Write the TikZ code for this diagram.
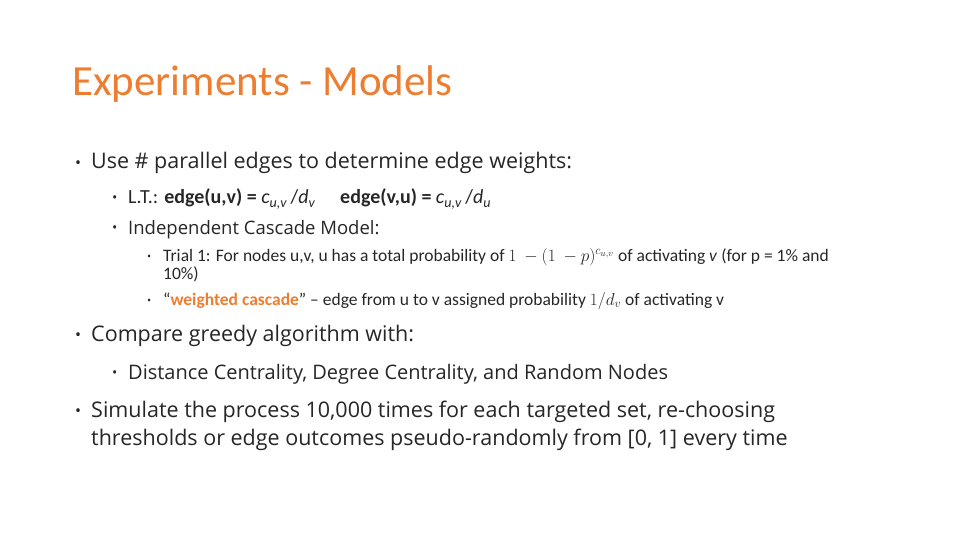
\documentclass[tikz,border=0pt]{standalone}
\usepackage{fontspec}
\setmainfont{Open Sans}
\newfontfamily\calfam{Carlito}
\definecolor{orng}{HTML}{ED7D31}
\definecolor{txt}{HTML}{262626}
\begin{document}
\begin{tikzpicture}[x=1pt,y=-1pt,
  every node/.style={inner sep=0pt,anchor=base west,text=txt},
  lA/.style={font=\fontsize{21.5}{26}\selectfont},
  lB/.style={font=\fontsize{18.5}{22}\selectfont},
  lBc/.style={font=\calfam\fontsize{20}{24}\selectfont},
  lC/.style={font=\calfam\fontsize{17.5}{20}\selectfont}]
\useasboundingbox (0,0) rectangle (960,540);
\node[font=\calfam\fontsize{43}{48}\selectfont,text=orng] (title) at (72,96) {Experiments - Models};
% level 1
\node[lA,font=\fontsize{16}{20}\selectfont] (b1) at (75,168) {•};
\node[lA] (t1) at (91,169) {Use \# parallel edges to determine edge weights:};
\node[lB,font=\fontsize{14}{20}\selectfont] (b2) at (112,202) {•};
\node[lBc] (t2) at (128,204) {L.T.: \textbf{edge(u,v) =} \textit{c}\textsubscript{\textit{u,v}}\,/\textit{d}\textsubscript{\textit{v}}\quad\ \textbf{edge(v,u) =} \textit{c}\textsubscript{\textit{u,v}}\,/\textit{d}\textsubscript{\textit{u}}};
\node[lB,font=\fontsize{14}{20}\selectfont] (b3) at (112,232) {•};
\node[lB] (t3) at (128,234) {Independent Cascade Model:};
\node[lC,font=\fontsize{11}{20}\selectfont] (b4) at (147,260) {•};
\node[lC] (t4) at (163,261) {Trial 1: For nodes u,v, u has a total probability of $1\ -(1\ -p)^{c_{u,v}}$ of activating \textit{v} (for p = 1\% and};
\node[lC] (t4b) at (163,279) {10\%)};
\node[lC,font=\fontsize{11}{20}\selectfont] (b5) at (147,304) {•};
\node[lC] (t5) at (163,305) {“\textcolor{orng}{\textbf{weighted cascade}}” – edge from u to v assigned probability $1/d_v$ of activating v};
\node[lA,font=\fontsize{16}{20}\selectfont] (b6) at (75,340) {•};
\node[lA] (t6) at (91,341) {Compare greedy algorithm with:};
\node[lB,font=\fontsize{14}{20}\selectfont] (b7) at (112,377) {•};
\node[lB,font=\fontsize{20}{24}\selectfont] (t7) at (128,379) {Distance Centrality, Degree Centrality, and Random Nodes};
\node[lA,font=\fontsize{16}{20}\selectfont] (b8) at (75,416) {•};
\node[lA] (t8) at (91,417) {Simulate the process 10,000 times for each targeted set, re-choosing};
\node[lA] (t8b) at (91,445) {thresholds or edge outcomes pseudo-randomly from [0, 1] every time};
\end{tikzpicture}
\end{document}
